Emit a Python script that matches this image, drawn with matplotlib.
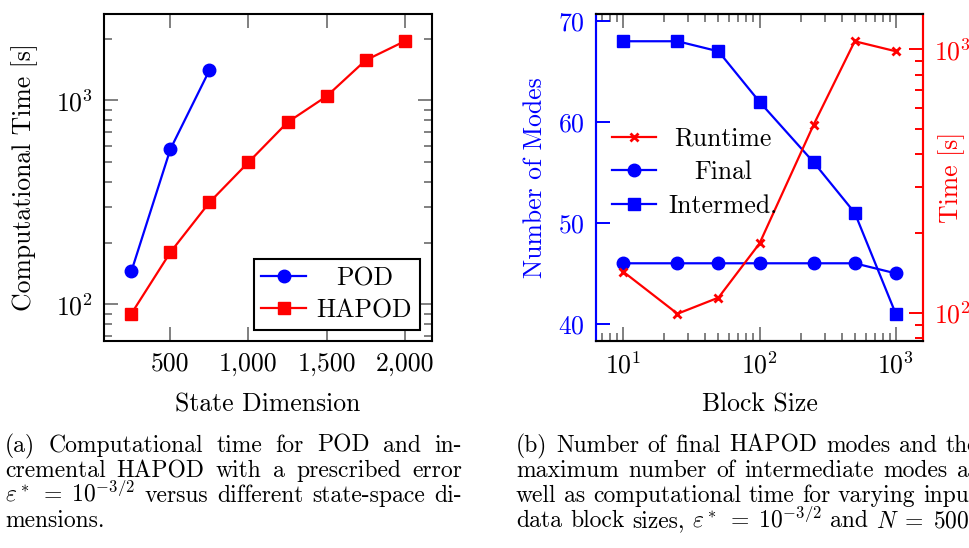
import matplotlib
matplotlib.use("Agg")
import matplotlib.pyplot as plt
from matplotlib.ticker import FixedLocator, FuncFormatter, LogLocator, NullFormatter
from matplotlib.offsetbox import TextArea
from matplotlib.transforms import Bbox
import numpy as np

# data
dims = [250, 500, 750, 1000, 1250, 1500, 1750, 2000]
pod_time = [145, 576, 1403]
hapod_time = [90, 180, 316, 497, 780, 1046, 1570, 1946]

block_size = [10, 25, 50, 100, 250, 500, 1000]
final_modes = [46, 46, 46, 46, 46, 46, 45]
intermed_modes = [68, 68, 67, 62, 56, 51, 41]
runtime = [143, 99, 114, 183, 518, 1073, 983]

dim_ticks = [500, 1000, 1500, 2000]
mode_ticks = [40, 50, 60, 70]

caption_a = [
    "(a) Computational time for POD and in-",
    "cremental HAPOD with a prescribed error",
    r"$\varepsilon^*\;=\;10^{-3/2}$ versus different state-space di-",
    "mensions.",
]
caption_b = [
    "(b) Number of final HAPOD modes and the",
    "maximum number of intermediate modes as",
    "well as computational time for varying input",
    r"data block sizes, $\varepsilon^*\;=\;10^{-3/2}$ and $N\;=\;500$.",
]

plt.rcParams['font.family'] = 'cmr10'
plt.rcParams['mathtext.fontset'] = 'cm'
plt.rcParams['axes.unicode_minus'] = False
plt.rcParams['axes.formatter.use_mathtext'] = True

FS = 18.5
GREY = '#808080'
LW = 1.6
W, H = 970, 548


def enlarge(lo, hi, log=False):
    if log:
        a, b = np.log10(lo), np.log10(hi)
        d = 0.1 * (b - a)
        return 10 ** (a - d), 10 ** (b + d)
    d = 0.1 * (hi - lo)
    return lo - d, hi + d


def axrect(x0, y0, x1, y1):
    return [x0 / W, 1 - y1 / H, (x1 - x0) / W, (y1 - y0) / H]


def center_legend_text(leg):
    # pgfplots centres the legend text in its column
    tas = [ta for ta in leg.findobj(TextArea) if ta._text in leg.texts]
    orig = TextArea.get_bbox

    def make(ta):
        def gb(renderer):
            m = max(orig(t, renderer).width for t in tas)
            b = orig(ta, renderer)
            return Bbox.from_bounds(-m / 2, b.y0, m, b.height)
        return gb

    for ta in tas:
        ta._text.set_ha('center')
        ta.get_bbox = make(ta)


fig = plt.figure(figsize=(9.7, 5.48), dpi=100)

# ---- (a) ----
ax1 = fig.add_axes(axrect(104, 14, 432, 341))
ax1.plot(dims[:len(pod_time)], pod_time, color='blue', lw=LW, marker='o', ms=9, label='POD')
ax1.plot(dims, hapod_time, color='red', lw=LW, marker='s', ms=8.5, label='HAPOD')
ax1.set_yscale('log')
ax1.set_xlim(*enlarge(min(dims), max(dims)))
ax1.set_ylim(*enlarge(min(hapod_time), max(hapod_time), log=True))
ax1.xaxis.set_major_locator(FixedLocator(dim_ticks))
ax1.xaxis.set_major_formatter(FuncFormatter(lambda v, p: f"{int(v):,}"))
ax1.yaxis.set_major_locator(LogLocator(base=10))
ax1.yaxis.set_minor_locator(LogLocator(base=10, subs=range(2, 10)))
ax1.yaxis.set_minor_formatter(NullFormatter())
ax1.tick_params(which='both', direction='in', color=GREY, width=1.4,
                top=True, right=True, labelsize=FS, pad=8)
ax1.tick_params(which='major', length=10)
ax1.tick_params(which='minor', length=6)
for s in ax1.spines.values():
    s.set_linewidth(1.5)
ax1.set_xlabel('State Dimension', fontsize=FS)
ax1.set_ylabel('Computational Time [s]', fontsize=FS)
ax1.xaxis.set_label_coords(0.5, -0.159)
ax1.yaxis.set_label_coords(-0.201, 0.5)
leg1 = ax1.legend(loc='lower right', bbox_to_anchor=(0.963, 0.034), borderaxespad=0,
                  fancybox=False, edgecolor='black', framealpha=1, fontsize=FS,
                  handlelength=1.75, handletextpad=0.4, borderpad=0.3, labelspacing=0.32)
leg1.get_frame().set_linewidth(1.5)
center_legend_text(leg1)

# ---- (b) ----
ax = fig.add_axes(axrect(596, 14, 923, 341))
ax2 = ax.twinx()
l_final, = ax.plot(block_size, final_modes, color='blue', lw=LW, marker='o', ms=9, label='Final')
l_inter, = ax.plot(block_size, intermed_modes, color='blue', lw=LW, marker='s', ms=8.5, label='Intermed.')
l_run, = ax2.plot(block_size, runtime, color='red', lw=LW, marker='x', ms=6, mew=2, label='Runtime')
ax.set_xscale('log')
ax.set_xlim(*[10 ** v for v in (0.8, 3.2)])
ax.set_ylim(*enlarge(min(final_modes + intermed_modes), max(final_modes + intermed_modes)))
ax2.set_yscale('log')
ax2.set_ylim(*enlarge(min(runtime), max(runtime), log=True))
ax.yaxis.set_major_locator(FixedLocator(mode_ticks))
ax.xaxis.set_minor_locator(LogLocator(base=10, subs=range(2, 10)))
ax.xaxis.set_minor_formatter(NullFormatter())
ax2.yaxis.set_minor_locator(LogLocator(base=10, subs=range(2, 10)))
ax2.yaxis.set_minor_formatter(NullFormatter())

ax.tick_params(axis='x', which='both', direction='in', color=GREY, width=1.4,
               top=True, bottom=True, labelsize=FS, pad=8)
ax.tick_params(axis='y', which='both', direction='in', color='blue', labelcolor='blue',
               width=1.4, right=False, labelsize=FS, pad=8)
ax2.tick_params(axis='y', which='both', direction='in', color='red', labelcolor='red',
                width=1.4, left=False, labelsize=FS, pad=8)
for a in (ax, ax2):
    a.tick_params(which='major', length=10)
    a.tick_params(which='minor', length=6)
    for s in a.spines.values():
        s.set_linewidth(1.5)
    a.spines['left'].set_color('blue')
    a.spines['right'].set_color('red')

ax.set_xlabel('Block Size', fontsize=FS)
ax.set_ylabel('Number of Modes', fontsize=FS, color='blue')
ax2.set_ylabel('Time [s]', fontsize=FS, color='red')
ax.xaxis.set_label_coords(0.5, -0.159)
ax.yaxis.set_label_coords(-0.15, 0.5)
ax2.yaxis.set_label_coords(1.046, 0.5)

leg2 = ax2.legend([l_run, l_final, l_inter], ['Runtime', 'Final', 'Intermed.'],
                  loc='upper left', bbox_to_anchor=(0.049, 0.655), borderaxespad=0,
                  frameon=False, fontsize=FS, handlelength=1.7, handletextpad=0.5,
                  labelspacing=0.38, borderpad=0)
center_legend_text(leg2)

# ---- captions (justified) ----
CFS = 17
renderer = fig.canvas.get_renderer()


def put_line(text, x0, x1, yb, last=False):
    words = text.split(' ')
    # keep math spans together
    merged, buf = [], None
    for w in words:
        if buf is not None:
            buf += ' ' + w
            if w.count('$') % 2 == 1:
                merged.append(buf)
                buf = None
        elif w.count('$') % 2 == 1:
            buf = w
        else:
            merged.append(w)
    ts = [fig.text(0, 1 - yb / H, w, fontsize=CFS, va='baseline', ha='left') for w in merged]
    widths = [t.get_window_extent(renderer).width for t in ts]
    if last or len(ts) == 1:
        sp = fig.text(0, 0, 'a a', fontsize=CFS).get_window_extent(renderer).width
        sp2 = fig.text(0, 0, 'aa', fontsize=CFS).get_window_extent(renderer).width
        gap = sp - sp2
        for t in fig.texts[-2:]:
            t.remove()
    else:
        gap = (x1 - x0 - sum(widths)) / (len(ts) - 1)
    x = x0
    for t, w in zip(ts, widths):
        t.set_x(x / W)
        x += w + gap


baselines = [452, 477, 502, 527]
for i, line in enumerate(caption_a):
    put_line(line, 5, 462, baselines[i], last=(i == len(caption_a) - 1))
for i, line in enumerate(caption_b):
    put_line(line, 516, 978, baselines[i], last=(i == len(caption_b) - 1))

fig.savefig('out.png', dpi=100)
